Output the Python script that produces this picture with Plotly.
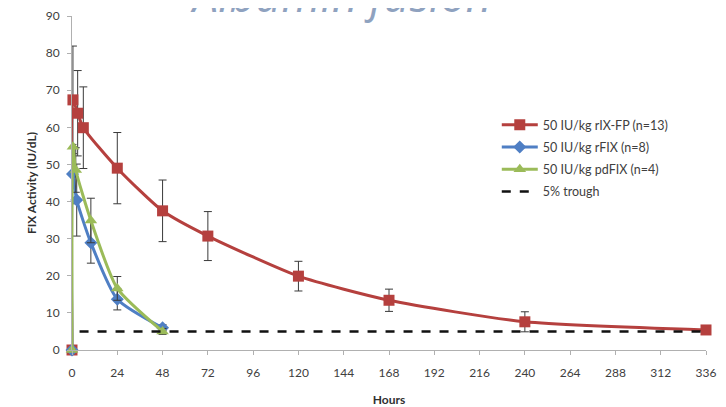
import plotly.graph_objects as go

# Data
red_x = [0, 0.5, 3, 6, 24, 48, 72, 120, 168, 240, 336]
red_y = [0, 67.4, 63.8, 59.9, 49.0, 37.5, 30.7, 19.9, 13.4, 7.6, 5.4]
red_err = [0, 14.5, 11.5, 11.0, 9.6, 8.3, 6.6, 4.0, 3.0, 2.7, 0]

blue_x = [0, 0.25, 2.5, 10, 24, 48]
blue_y = [0, 47.4, 40.4, 28.9, 13.7, 6.0]
blue_err = [0, 8.0, 9.7, 5.5, 2.9, 0.8]

green_x = [0, 0.5, 2, 10, 24, 48]
green_y = [0, 54.8, 48.5, 34.9, 16.6, 5.0]
green_err = [0, 0, 6.0, 6.0, 3.2, 0.8]

trough_x = [4, 336]
trough_y = [5, 5]

x_ticks = [0, 24, 48, 72, 96, 120, 144, 168, 192, 216, 240, 264, 288, 312, 336]
y_ticks = [0, 10, 20, 30, 40, 50, 60, 70, 80, 90]

names = ["50 IU/kg rIX-FP (n=13)", "50 IU/kg rFIX (n=8)", "50 IU/kg pdFIX (n=4)", "5% trough"]

FONT = "Lato"
err_style = dict(type="data", thickness=1, width=4, color="#3a3a3a")

fig = go.Figure()
fig.add_trace(go.Scatter(
    x=red_x, y=red_y, name=names[0], mode="lines+markers", legendgroup="a",
    line=dict(color="#b5403e", width=3, shape="spline", smoothing=0.6),
    marker=dict(symbol="square", size=11, color="#b5403e"),
    error_y=dict(array=red_err, **err_style), cliponaxis=False))
fig.add_trace(go.Scatter(
    x=blue_x, y=blue_y, name=names[1], mode="lines+markers", legendgroup="b",
    line=dict(color="#4f7fc4", width=3, shape="spline", smoothing=0.6),
    marker=dict(symbol="diamond", size=10, color="#4f7fc4"),
    error_y=dict(array=blue_err, **err_style), cliponaxis=False))
fig.add_trace(go.Scatter(
    x=green_x, y=green_y, name=names[2], mode="lines+markers", legendgroup="c",
    line=dict(color="#9bbb59", width=3, shape="spline", smoothing=0.6),
    marker=dict(symbol="triangle-up", size=11, color="#9bbb59"),
    error_y=dict(array=green_err, **err_style), cliponaxis=False))
fig.add_trace(go.Scatter(
    x=trough_x, y=trough_y, name=names[3], mode="lines", legendgroup="d",
    line=dict(color="#111111", width=2.5, dash="dash")))

fig.add_annotation(
    text="<i>Albumin fusion</i>", xref="paper", yref="paper",
    x=0.424, y=0.967, xanchor="center", yanchor="bottom", showarrow=False,
    font=dict(family="Open Sans", size=45, color="#8fa2bf"))

fig.update_layout(
    width=718, height=399,
    margin=dict(l=64, r=20, t=8, b=57),
    paper_bgcolor="white", plot_bgcolor="white",
    font=dict(family=FONT, size=12, color="#404040"),
    showlegend=True,
    legend=dict(x=0.67, y=0.718, xanchor="left", yanchor="top",
                font=dict(family=FONT, size=12.5, color="#404040"),
                itemwidth=36, bgcolor="rgba(0,0,0,0)", tracegroupgap=3),
)
fig.update_xaxes(
    range=[0, 336], tickvals=x_ticks, ticktext=[str(v) for v in x_ticks],
    automargin=False, ticklabeloverflow="allow", ticklabelstandoff=8,
    showgrid=False, zeroline=False, showline=True, linecolor="#b0b0b0", linewidth=1,
    ticks="outside", ticklen=4, tickcolor="#b0b0b0",
    title=dict(text="<b>Hours</b>", font=dict(family=FONT, size=12, color="#303030"), standoff=22))
fig.update_yaxes(
    range=[0, 90], tickvals=y_ticks, ticktext=[str(v) for v in y_ticks],
    automargin=False, ticklabelstandoff=5,
    showgrid=False, zeroline=False, showline=True, linecolor="#b0b0b0", linewidth=1,
    ticks="outside", ticklen=4, tickcolor="#b0b0b0",
    title=dict(text="<b>FIX Activity (IU/dL)</b>", font=dict(family=FONT, size=12, color="#303030"), standoff=6))

fig.write_html("out.html")
